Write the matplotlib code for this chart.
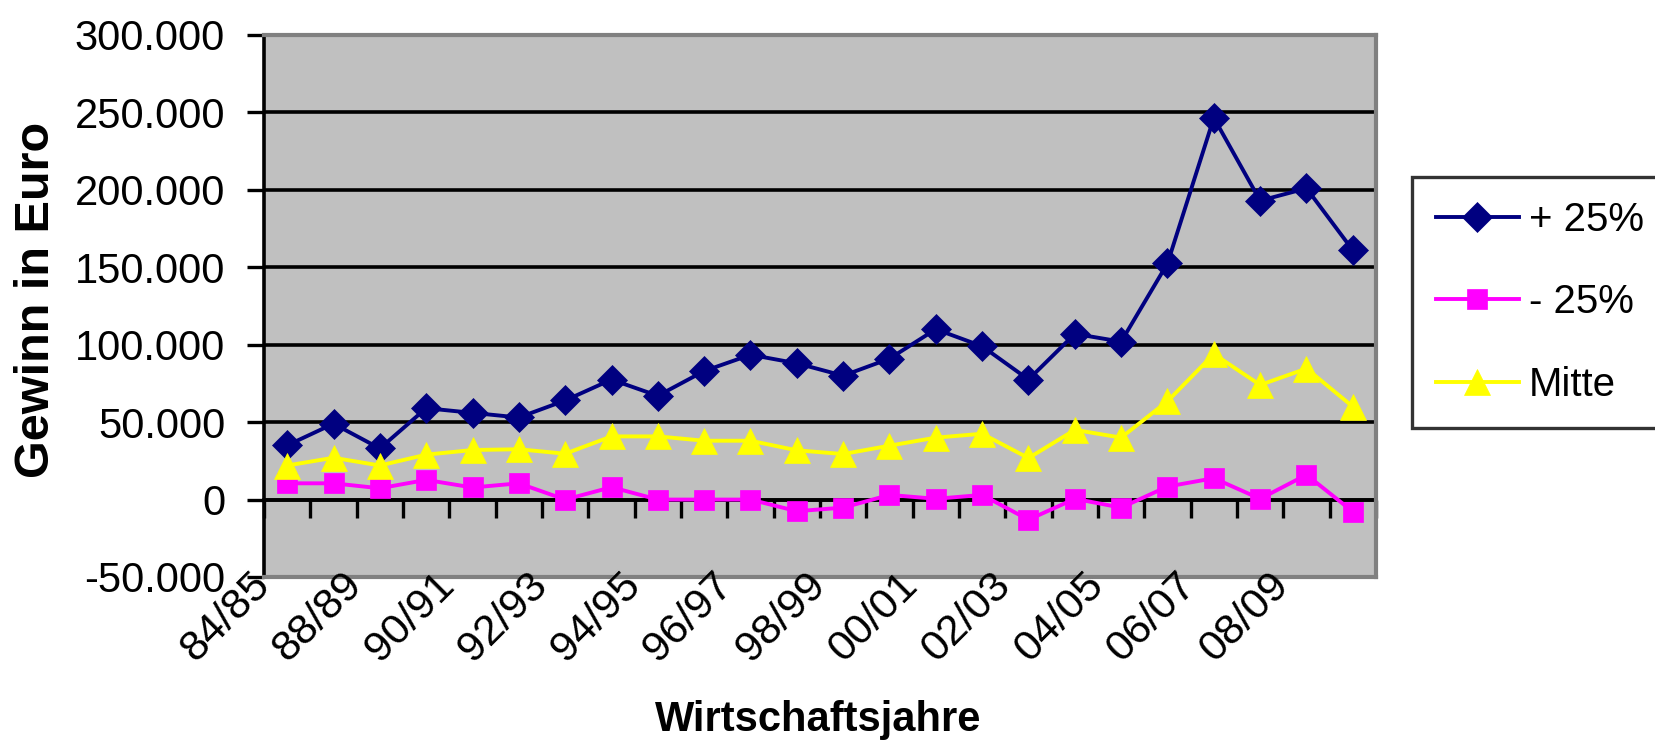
import matplotlib
matplotlib.use("Agg")
import matplotlib.pyplot as plt
import matplotlib.transforms as mtransforms
import numpy as np

# Wirtschaftsjahre (only every second one is labelled on the axis)
jahre = ["84/85", "87/88", "88/89", "89/90", "90/91", "91/92", "92/93", "93/94",
         "94/95", "95/96", "96/97", "97/98", "98/99", "99/00", "00/01", "01/02",
         "02/03", "03/04", "04/05", "05/06", "06/07", "07/08", "08/09", "09/10"]

plus25 = [35000, 49000, 33000, 59000, 56000, 53000, 64000, 77500, 67000, 83000, 93500, 88000,
          80000, 91000, 110000, 99000, 77500, 107000, 102000, 152500, 246500, 193000, 201000, 161000]
minus25 = [10500, 10500, 7300, 12700, 7800, 10500, 0, 8000, 0, 0, 0, -7500,
           -5200, 3000, 500, 3000, -13000, 500, -5200, 8400, 13800, 500, 16000, -7800]
mitte = [22000, 27000, 22000, 29000, 32000, 32500, 29600, 40800, 40800, 38000, 38000, 31800,
         29400, 34800, 40000, 42500, 26800, 45000, 40000, 63500, 94000, 74000, 84600, 60000]

y_ticks = [-50000, 0, 50000, 100000, 150000, 200000, 250000, 300000]

plt.rcParams['font.family'] = ['Liberation Sans', 'DejaVu Sans']

fig = plt.figure(figsize=(16.55, 7.41), dpi=100)
ax = fig.add_axes([264 / 1655, 1 - 577 / 741, 1112 / 1655, 542 / 741])
ax.set_facecolor("#c0c0c0")

x = np.arange(len(jahre))
ax.plot(x, plus25, color="#000080", lw=2.8, marker="D", ms=15, mew=0.5, label="+ 25%")
ax.plot(x, minus25, color="#ff00ff", lw=2.8, marker="s", ms=15, mew=0.5, label="- 25%")
ax.plot(x, mitte, color="#ffff00", lw=2.8, marker="^", ms=19, mew=0.5, label="Mitte")

ax.set_xlim(-0.5, len(jahre) - 0.5)
ax.set_ylim(y_ticks[0], y_ticks[-1])
ax.set_yticks(y_ticks)
ax.set_yticklabels([f"{v:,.0f}".replace(",", ".") for v in y_ticks], fontsize=30)
ax.tick_params(axis="y", direction="out", length=12, width=2.4, pad=16, color="k")

ax.set_axisbelow(True)
ax.yaxis.grid(True, color="k", lw=2.6)
for s in ["top", "right", "bottom"]:
    ax.spines[s].set_color("#808080")
    ax.spines[s].set_linewidth(3)
ax.spines["left"].set_color("k")
ax.spines["left"].set_linewidth(2.6)

# category axis crosses at 0
ax.set_xticks([])
zero_frac = (0 - y_ticks[0]) / (y_ticks[-1] - y_ticks[0])
sec = ax.secondary_xaxis(zero_frac)
sec.set_xticks(np.arange(-0.5, len(jahre), 1.0))
sec.tick_params(direction="out", length=13, width=2.4, labelbottom=False, labeltop=False)
for s in ["top", "bottom"]:
    sec.spines[s].set_color("k")
    sec.spines[s].set_linewidth(2.6)

# rotated category labels, every second year
off = mtransforms.ScaledTranslation(-38 / 100, 12 / 100, fig.dpi_scale_trans)
trans = mtransforms.blended_transform_factory(ax.transData, ax.transAxes) + off
for i in range(0, len(jahre), 2):
    ax.text(x[i], 0, jahre[i], transform=trans, rotation=45, rotation_mode="anchor",
            ha="right", va="top", fontsize=31, clip_on=False)

ax.set_ylabel("Gewinn in Euro", fontsize=35, fontweight="bold")
ax.yaxis.set_label_coords((36 - 264) / 1112, (577 - 300) / 542)
ax.yaxis.label.set_va("center")
ax.set_xlabel("Wirtschaftsjahre", fontsize=30, fontweight="bold")
ax.xaxis.set_label_coords((818 - 264) / 1112, (577 - 720) / 542)
ax.xaxis.label.set_va("center")

leg = fig.legend(loc="upper left", bbox_to_anchor=(1412 / 1655, 1 - 177 / 741),
                 fontsize=29, frameon=True, fancybox=False, borderaxespad=0,
                 borderpad=0.6, handlelength=2.05, handletextpad=0.25, labelspacing=1.1)
leg.get_frame().set_edgecolor("k")
leg.get_frame().set_linewidth(2.4)

fig.savefig("out.png", dpi=100)
